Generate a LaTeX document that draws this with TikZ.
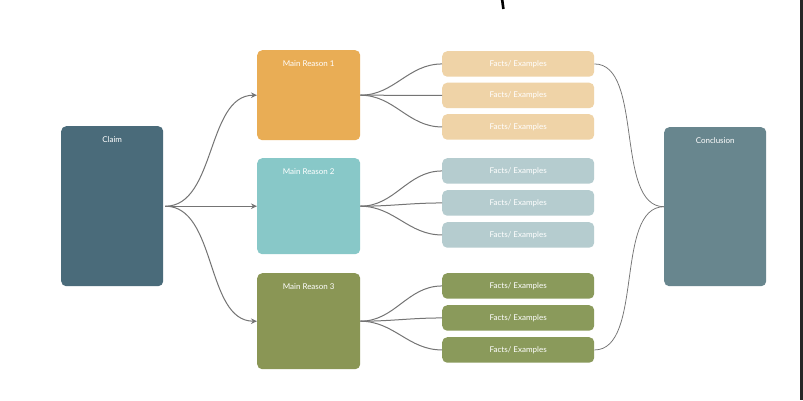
\documentclass[tikz,border=0pt]{standalone}
\usepackage{fontspec}
\setmainfont{Lato}
\usetikzlibrary{arrows.meta}
\definecolor{claimc}{HTML}{4A6B7A}
\definecolor{conclc}{HTML}{68868E}
\definecolor{reasonA}{HTML}{E9AD55}
\definecolor{reasonB}{HTML}{88C8C8}
\definecolor{reasonC}{HTML}{8A9655}
\definecolor{factA}{HTML}{EFD3A7}
\definecolor{factB}{HTML}{B5CCCF}
\definecolor{factC}{HTML}{8A9A5B}
\definecolor{linec}{HTML}{747474}
\begin{document}
\begin{tikzpicture}[x=1pt,y=-1pt,
  bigbox/.style={rounded corners=5pt, minimum width=102pt, minimum height=#1, inner sep=0pt, anchor=north west, draw=none},
  reasonbox/.style={rounded corners=5pt, minimum width=103pt, minimum height=#1, inner sep=0pt, anchor=north west, draw=none},
  factbox/.style={rounded corners=5pt, minimum width=152pt, minimum height=25.5pt, inner sep=0pt, anchor=north west, draw=none, text=white, font=\fontsize{8}{9}\selectfont},
  toplabel/.style={label={[anchor=center, yshift=-14pt, text=white, font=\fontsize{8}{9}\selectfont]north:#1}},
  conn/.style={draw=linec, line width=1pt},
  arr/.style={conn, -{Stealth[length=6pt,width=5.5pt]}},
  thin/.style={draw=linec, line width=0.75pt}
]
\useasboundingbox (0,0) rectangle (803,400);
\fill[white] (0,0) rectangle (803,400);
\fill[black!85] (800,0) rectangle (803,400);
\draw[black, line width=2.6pt] (502.2,0) -- (503.4,9);

\node[bigbox=160pt, fill=claimc, toplabel=Claim] (claim) at (61,126) {};
\node[bigbox=159pt, fill=conclc, toplabel=Conclusion] (concl) at (664,127) {};

\node[reasonbox=90pt, fill=reasonA, toplabel=Main Reason 1] (r1) at (257,50) {};
\node[reasonbox=96pt, fill=reasonB, toplabel=Main Reason 2] (r2) at (257,158) {};
\node[reasonbox=96pt, fill=reasonC, toplabel=Main Reason 3] (r3) at (257,273) {};

\node[factbox, fill=factA] (f11) at (442,51) {Facts/ Examples};
\node[factbox, fill=factA] (f12) at (442,82.5) {Facts/ Examples};
\node[factbox, fill=factA] (f13) at (442,114) {Facts/ Examples};
\node[factbox, fill=factB] (f21) at (442,158) {Facts/ Examples};
\node[factbox, fill=factB] (f22) at (442,190) {Facts/ Examples};
\node[factbox, fill=factB] (f23) at (442,222) {Facts/ Examples};
\node[factbox, fill=factC] (f31) at (442,273) {Facts/ Examples};
\node[factbox, fill=factC] (f32) at (442,305) {Facts/ Examples};
\node[factbox, fill=factC] (f33) at (442,337) {Facts/ Examples};

\coordinate (cs) at ([xshift=2pt]claim.east);
\draw[arr] (cs) to[out=0,in=180,looseness=0.9] (r1.west);
\draw[arr] (cs) -- (r2.west);
\draw[arr] (cs) to[out=0,in=180,looseness=0.9] (r3.west);

\foreach \r/\a/\b/\c in {r1/f11/f12/f13, r2/f21/f22/f23, r3/f31/f32/f33}{
  \draw[conn] (\r.east) to[out=0,in=180] (\a.west);
  \draw[conn] (\r.east) to[out=0,in=180] (\b.west);
  \draw[conn] (\r.east) to[out=0,in=180] (\c.west);
}

\draw[thin] (f11.east) to[out=0,in=180,looseness=0.8] (concl.west);
\draw[thin] (f33.east) to[out=0,in=180,looseness=0.8] (concl.west);
\end{tikzpicture}
\end{document}
